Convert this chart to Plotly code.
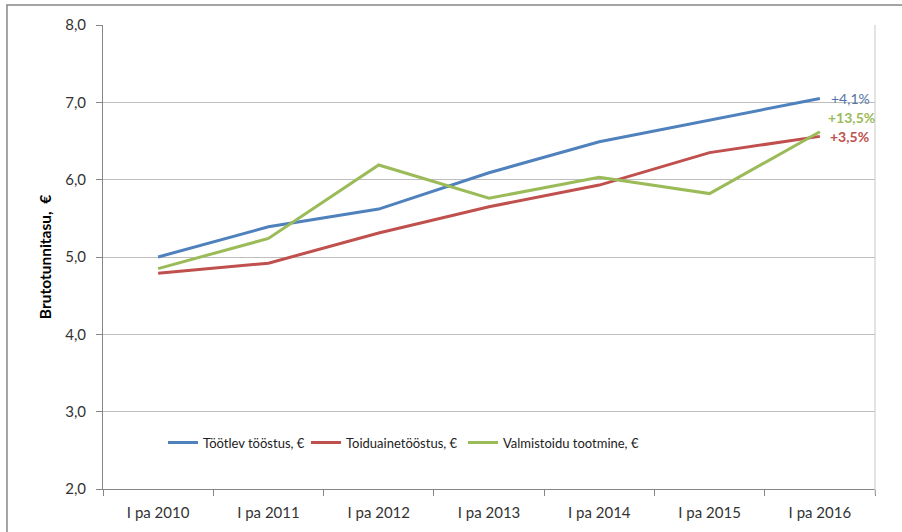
import plotly.graph_objects as go

categories = ["I pa 2010", "I pa 2011", "I pa 2012", "I pa 2013", "I pa 2014", "I pa 2015", "I pa 2016"]
tootlev = [5.00, 5.39, 5.62, 6.09, 6.49, 6.77, 7.05]
toiduaine = [4.79, 4.92, 5.31, 5.65, 5.93, 6.35, 6.56]
valmistoit = [4.85, 5.24, 6.19, 5.76, 6.03, 5.82, 6.62]
series_names = ["Töötlev tööstus, €", "Toiduainetööstus, €", "Valmistoidu tootmine, €"]
change_labels = ["+4,1%", "+3,5%", "+13,5%"]
y_ticks = [2, 3, 4, 5, 6, 7, 8]

colors = ["#4F81BD", "#C0504D", "#9BBB59"]
label_colors = ["#5473A6", "#C0504D", "#9BBB59"]
legend_widths = [98, 112, 140]
FONT = "Lato"

fig = go.Figure()
for name, vals, c, lw in zip(series_names, [tootlev, toiduaine, valmistoit], colors, legend_widths):
    fig.add_trace(go.Scatter(x=categories, y=vals, mode="lines", name=name, legendwidth=lw,
                             line=dict(color=c, width=3), hoverinfo="x+y+name"))

last = len(categories) - 1
fig.add_annotation(x=categories[last], y=tootlev[last], text=change_labels[0], showarrow=False,
                   xanchor="left", yanchor="middle", xshift=9,
                   font=dict(family=FONT, size=14, color=label_colors[0]))
fig.add_annotation(x=categories[last], y=toiduaine[last], text="<b>" + change_labels[1] + "</b>", showarrow=False,
                   xanchor="left", yanchor="middle", xshift=8,
                   font=dict(family=FONT, size=14, color=label_colors[1]))
fig.add_annotation(x=categories[last], y=valmistoit[last], text="<b>" + change_labels[2] + "</b>", showarrow=False,
                   xanchor="left", yanchor="middle", xshift=6, yshift=14,
                   font=dict(family=FONT, size=14, color=label_colors[2]))

# outer chart border (partially cropped in reference)
fig.add_shape(type="rect", xref="paper", yref="paper",
              x0=-0.1244, x1=1.2, y0=-0.3, y1=1.0431,
              line=dict(color="#868686", width=1.5), fillcolor="rgba(0,0,0,0)", layer="below")
# right plot-area edge
fig.add_shape(type="line", xref="paper", yref="paper", x0=1, x1=1, y0=-0.012, y1=1,
              line=dict(color="#C8C8C8", width=1))

fig.update_layout(
    width=902, height=532,
    margin=dict(l=103, r=27, t=25, b=43),
    paper_bgcolor="white", plot_bgcolor="white",
    separators=", ",
    font=dict(family=FONT, size=15, color="#333333"),
    showlegend=True,
    legend=dict(orientation="h", x=0.0777, y=0.10, xanchor="left", yanchor="middle",
                font=dict(family=FONT, size=13, color="#222222"),
                bgcolor="rgba(255,255,255,0)", itemwidth=30, tracegroupgap=0,
                itemclick=False),
    xaxis=dict(type="category", showgrid=False, showline=True, linecolor="#868686", linewidth=1,
               ticks="outside", tickson="boundaries", ticklen=6, tickcolor="#868686",
               ticklabelstandoff=10,
               tickfont=dict(family=FONT, size=15, color="#333333"), range=[-0.5, 6.5],
               fixedrange=True),
    yaxis=dict(range=[2, 8], tickvals=y_ticks, tickformat=".1f", showgrid=True,
               gridcolor="#BEBEBE", gridwidth=1, showline=True, linecolor="#868686", linewidth=1,
               ticks="outside", ticklen=6, tickcolor="#868686", zeroline=False,
               ticklabelstandoff=7,
               tickfont=dict(family=FONT, size=15, color="#333333"),
               title=dict(text="<b>Brutotunnitasu,  €</b>", standoff=9,
                          font=dict(family=FONT, size=15.5, color="#000000")),
               fixedrange=True),
)

fig.write_html("out.html", config={"displayModeBar": False},
               post_script="document.body.style.margin='0';document.body.style.overflow='hidden';")
